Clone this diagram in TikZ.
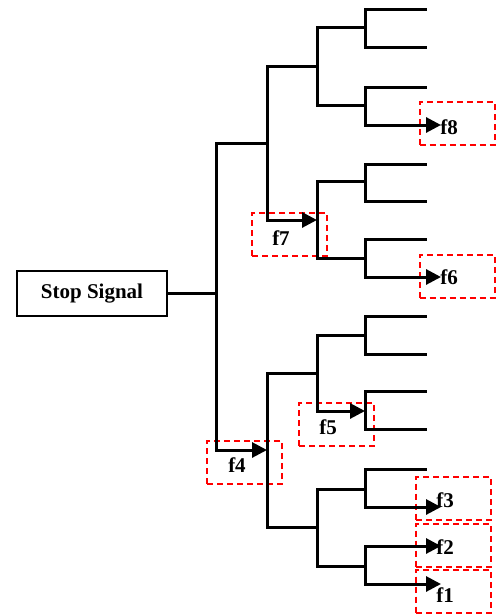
\documentclass[tikz,border=0pt]{standalone}
\usepackage{fontspec}
\setmainfont{Liberation Serif}
\usetikzlibrary{arrows.meta,positioning}
\tikzset{
  branch/.style={
    line width=3pt,
    line cap=rect
  },
  feed/.style={
    line width=3pt,
    -{Triangle[length=15pt,width=15pt]}
  },
}
\tikzset{
  stopbox/.style={
    draw,
    line width=2.8pt,
    minimum width=150pt,
    minimum height=45pt,
    inner sep=0pt
  },
  tagbox/.style={
    draw=red,
    line width=2pt,
    dash pattern=on 6pt off 4pt,
    minimum width=75pt,
    minimum height=43pt,
    inner sep=0pt
  },
  tag/.style={
    inner sep=0pt
  }
}
% fork: name, x, top y, bottom y
\newcommand\Fork[4]{%
  \coordinate (#1-t) at (#2,#3);
  \coordinate (#1-b) at (#2,#4);
  \coordinate (#1) at (#2,{(#3+#4)/2});
  \draw[branch] (#1-t) -- (#1-b);
}
\begin{document}
\begin{tikzpicture}[x=1pt, y=-1pt, font=\fontsize{21}{25}\selectfont\bfseries]
  \useasboundingbox (0,0) rectangle (496,616);

  % dashed boxes
  \node[tagbox] (box4) at (244.5,462.5) {};
  \node[tagbox] (box5) at (336.5,424.5) {};
  \node[tagbox] (box7) at (289.5,234.5) {};
  \node[tagbox] (box8) at (457,123.5) {};
  \node[tagbox] (box6) at (457,276.5) {};
  \node[tagbox] (box3) at (453.5,498) {};
  \node[tagbox] (box2) at (453.5,545) {};
  \node[tagbox] (box1) at (453.5,591) {};

  \node[stopbox] (stop) at (92,293.5) {Stop Signal};

  \Fork{F0}{216}{143}{450}
  \Fork{F1}{267}{66}{220}
  \Fork{F2}{267}{373}{527}
  \Fork{F11}{317}{27}{105}
  \Fork{F12}{317}{181}{258}
  \Fork{F21}{317}{335}{411}
  \Fork{F22}{317}{489}{566}
  \Fork{F111}{365}{9}{47}
  \Fork{F112}{365}{87}{125}
  \Fork{F121}{365}{164}{201}
  \Fork{F122}{365}{239}{277}
  \Fork{F211}{365}{316}{354}
  \Fork{F212}{365}{391}{429}
  \Fork{F221}{365}{469}{507}
  \Fork{F222}{365}{546}{584}

  \coordinate (leafend) at (425,0);
  \coordinate (tipend) at (441,0);

  \draw[branch] (stop.east) -- (stop.east -| F0);
  \draw[branch] (F0-t) -- (F0-t -| F1);
  \draw[feed] (F0-b) -- (F0-b -| F2);
  \draw[branch] (F1-t) -- (F1-t -| F11);
  \draw[feed] (F1-b) -- (F1-b -| F12);
  \draw[branch] (F2-t) -- (F2-t -| F21);
  \draw[branch] (F2-b) -- (F2-b -| F22);
  \draw[branch] (F11-t) -- (F11-t -| F111);
  \draw[branch] (F11-b) -- (F11-b -| F112);
  \draw[branch] (F12-t) -- (F12-t -| F121);
  \draw[branch] (F12-b) -- (F12-b -| F122);
  \draw[branch] (F21-t) -- (F21-t -| F211);
  \draw[feed] (F21-b) -- (F21-b -| F212);
  \draw[branch] (F22-t) -- (F22-t -| F221);
  \draw[branch] (F22-b) -- (F22-b -| F222);

  % leaves
  \draw[branch] (F111-t) -- (F111-t -| leafend);
  \draw[branch] (F111-b) -- (F111-b -| leafend);
  \draw[branch] (F112-t) -- (F112-t -| leafend);
  \draw[feed] (F112-b) -- (F112-b -| tipend);
  \draw[branch] (F121-t) -- (F121-t -| leafend);
  \draw[branch] (F121-b) -- (F121-b -| leafend);
  \draw[branch] (F122-t) -- (F122-t -| leafend);
  \draw[feed] (F122-b) -- (F122-b -| tipend);
  \draw[branch] (F211-t) -- (F211-t -| leafend);
  \draw[branch] (F211-b) -- (F211-b -| leafend);
  \draw[branch] (F212-t) -- (F212-t -| leafend);
  \draw[branch] (F212-b) -- (F212-b -| leafend);
  \draw[branch] (F221-t) -- (F221-t -| leafend);
  \draw[feed] (F221-b) -- (F221-b -| tipend);
  \draw[feed] (F222-t) -- (F222-t -| tipend);
  \draw[feed] (F222-b) -- (F222-b -| tipend);

  \node[tag] (f4) at (237,465) {f4};
  \node[tag] (f5) at (328,427) {f5};
  \node[tag] (f7) at (281,238) {f7};
  \node[tag] (f8) at (449,127) {f8};
  \node[tag] (f6) at (449,277) {f6};
  \node[tag] (f3) at (445,500) {f3};
  \node[tag] (f2) at (445,547) {f2};
  \node[tag] (f1) at (445,595) {f1};
\end{tikzpicture}
\end{document}
